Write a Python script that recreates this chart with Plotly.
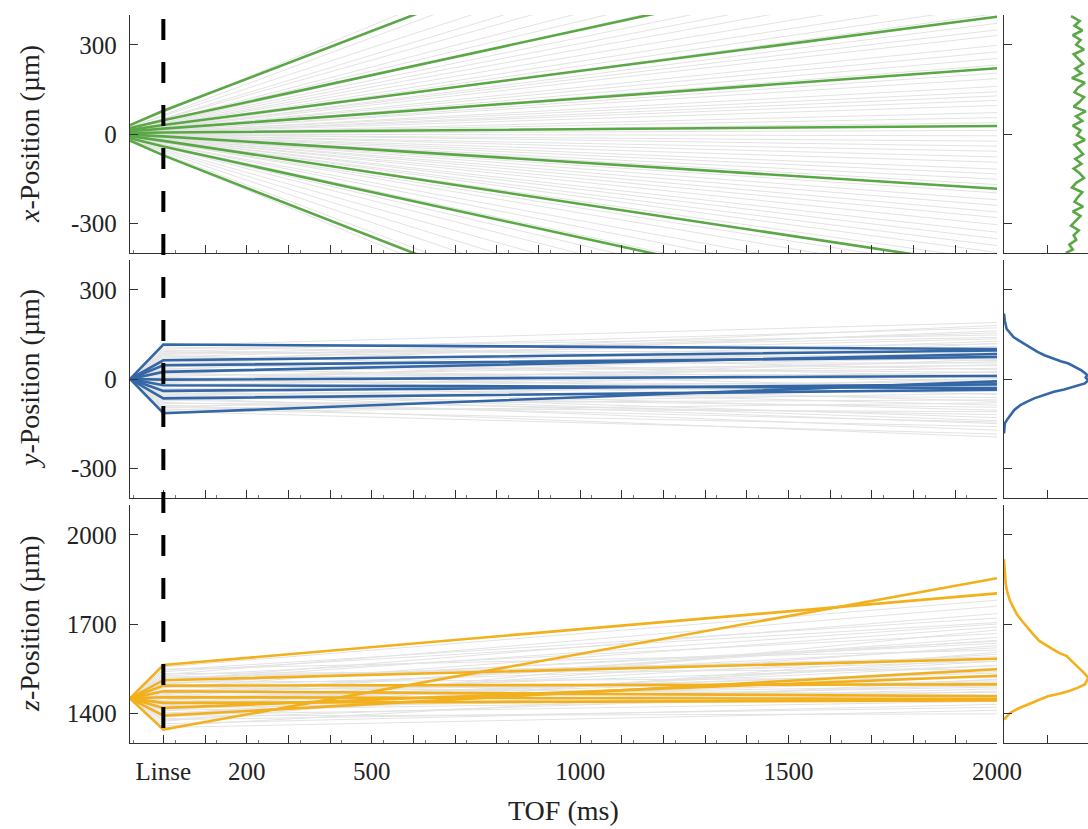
import plotly.graph_objects as go

# ---------------- data ----------------
t_points = [-80, 0, 2000]          # source, lens ("Linse"), end of TOF (ms)
x_tickvals = [0, 100, 200, 300, 400, 500, 600, 700, 800, 900, 1000, 1100, 1200,
              1300, 1400, 1500, 1600, 1700, 1800, 1900, 2000]
x_ticktext = ["Linse", "", "200", "", "", "500", "", "", "", "", "1000", "", "", "",
              "", "1500", "", "", "", "", "2000"]

# x-direction (straight trajectories): grey background set
gx_src = [26, 22, 24, 18, 19, 15, 17, 13, 14, 12,
          10, 11, 9, 10, 8, 6, 9, 7, 5, 6,
          4, 7, 3, 5, 2, 4, 1, 3, 2, 0,
          1, -1, 2, 0, -2, 1, -3, -1, -4, -2,
          -3, -5, -2, -6, -4, -7, -5, -8, -6, -9,
          -7, -10, -8, -11, -12, -10, -14, -13, -15, -17,
          -16, -19, -20, -22, -24, -26]
gx_end = [1240, 1105, 980, 905, 842, 770, 715, 668, 612, 575,
          540, 498, 462, 431, 405, 372, 350, 331, 298, 276,
          254, 232, 205, 186, 160, 142, 128, 113, 96, 72,
          55, 38, 12, -6, -24, -41, -58, -77, -95, -118,
          -134, -152, -170, -198, -221, -240, -262, -281, -305, -330,
          -352, -375, -398, -425, -468, -502, -548, -590, -640, -702,
          -760, -835, -920, -1010, -1120, -1230]
# highlighted x trajectories
green_src = [30, 20, 14, 9, 3, -2, -7, -14, -22]
green_lens = [78, 46, 30, 18, 5, -8, -23, -42, -72]
green_end = [1151, 654, 394, 221, 27, -184, -447, -654, -1165]

# y-direction
y_src = 0
gy_lens = [113, 108, 101, 97, 92, 88, 83, 79, 74, 71,
           66, 63, 57, 53, 49, 46, 41, 37, 33, 29,
           26, 21, 17, 14, 9, 6, 1, -3, -7, -11,
           -15, -18, -23, -27, -31, -34, -39, -43, -47, -51,
           -55, -58, -63, -67, -71, -74, -79, -83, -88, -92,
           -96, -101, -105, -109, -112, 86, 31, -12, -45, 58]
gy_end = [190, 62, 148, 31, 172, 96, 118, 7, 155, 80,
          135, -12, 104, 54, 162, 22, 88, -30, 127, 45,
          70, -52, 110, 15, 58, -75, 36, 92, -20, 48,
          -88, 10, -41, 66, -105, -8, -130, 25, -62, -150,
          -18, -95, -172, -35, -120, 2, -145, -70, -195, -48,
          -110, -160, -25, -185, -80, 140, -5, 120, -140, 180]
blue_lens = [116, 63, 46, 24, -2, -21, -40, -65, -115]
blue_end = [101, 96, 74, 84, 10, -30, -18, -36, -8]

# z-direction
z_src = 1450
gz_lens = [1556, 1548, 1540, 1533, 1525, 1518, 1511, 1504, 1498, 1491,
           1485, 1479, 1472, 1466, 1460, 1455, 1449, 1443, 1437, 1431,
           1425, 1419, 1413, 1407, 1401, 1395, 1388, 1381, 1373, 1365,
           1357, 1352, 1530, 1488, 1462, 1439, 1415, 1397, 1509, 1470,
           1545, 1451, 1428, 1378, 1500, 1476, 1521, 1444, 1410, 1391]
gz_end = [1780, 1612, 1705, 1548, 1668, 1590, 1735, 1520, 1642, 1575,
          1690, 1505, 1620, 1560, 1470, 1655, 1535, 1598, 1488, 1627,
          1512, 1455, 1575, 1680, 1498, 1440, 1552, 1475, 1605, 1430,
          1515, 1410, 1760, 1462, 1645, 1528, 1482, 1585, 1700, 1448,
          1720, 1492, 1560, 1420, 1635, 1505, 1585, 1540, 1452, 1398]
orange_lens = [1562, 1511, 1493, 1474, 1454, 1435, 1418, 1392, 1345]
orange_end = [1803, 1583, 1497, 1457, 1448, 1443, 1526, 1548, 1854]

# marginal distributions (normalised counts)
hx_pos = [396, 380, 364, 348, 332, 316, 300, 284, 268, 252, 236, 220, 204, 188, 172,
          156, 140, 124, 108, 92, 76, 60, 44, 28, 12, -4, -20, -36, -52, -68, -84,
          -100, -116, -132, -148, -164, -180, -196, -212, -228, -244, -260, -276,
          -292, -308, -324, -340, -356, -372, -388, -400]
hx_val = [0.78, 0.88, 0.82, 0.91, 0.80, 0.89, 0.84, 0.93, 0.81, 0.87,
          0.92, 0.83, 0.90, 0.79, 0.94, 0.86, 0.82, 0.93, 0.88, 0.81,
          0.95, 0.84, 0.91, 0.80, 0.89, 0.85, 0.94, 0.82, 0.87, 0.92,
          0.83, 0.90, 0.81, 0.88, 0.93, 0.84, 0.79, 0.91, 0.86, 0.82,
          0.92, 0.80, 0.89, 0.83, 0.78, 0.87, 0.81, 0.84, 0.76, 0.80, 0.72]
hy_pos = [220, 195, 169, 155, 141, 130, 119, 105, 91, 80, 69, 60, 52, 40, 29, 20, 13,
          5, -4, -15, -20, -26, -35, -43, -54, -65, -76, -88, -104, -121, -135, -149,
          -165, -183]
hy_val = [0.0, 0.01, 0.03, 0.07, 0.11, 0.17, 0.23, 0.30, 0.39, 0.47, 0.57, 0.66, 0.75,
          0.83, 0.90, 0.94, 0.97, 0.95, 0.98, 0.94, 0.88, 0.82, 0.70, 0.58, 0.47, 0.35,
          0.27, 0.19, 0.12, 0.07, 0.04, 0.01, 0.005, 0.0]
hz_pos = [1918, 1870, 1834, 1805, 1778, 1755, 1733, 1710, 1688, 1665, 1643, 1628, 1615,
          1603, 1592, 1572, 1553, 1536, 1519, 1508, 1497, 1486, 1474, 1465, 1457, 1443,
          1429, 1415, 1401, 1390, 1379]
hz_val = [0.0, 0.01, 0.02, 0.04, 0.07, 0.11, 0.15, 0.21, 0.27, 0.34, 0.41, 0.49, 0.57,
          0.64, 0.73, 0.80, 0.87, 0.93, 0.98, 0.96, 0.94, 0.86, 0.75, 0.63, 0.51, 0.39,
          0.27, 0.16, 0.07, 0.03, 0.0]

# ---------------- styling ----------------
GREEN = "#5aa845"
BLUE = "#3467a6"
ORANGE = "#f2b01c"
GREY = "#e3e3e3"
AX = "#333333"
FONT = "Liberation Serif"
TXT = "#222222"

W, H = 1088, 829
ML, MR, MT, MB = 130, 0, 15, 829 - 743
PW, PH = W - ML - MR, H - MT - MB


def px_x(p):
    return (p - ML) / PW


def px_y(p):
    return (H - MB - p) / PH


def polyline(ts_list, ys_list):
    xs, ys = [], []
    for ts, vs in zip(ts_list, ys_list):
        xs += list(ts) + [None]
        ys += list(vs) + [None]
    return xs, ys


fig = go.Figure()

# row 1: x position
xs, ys = polyline([[t_points[0], t_points[2]]] * len(gx_src),
                  [[s, e] for s, e in zip(gx_src, gx_end)])
fig.add_trace(go.Scatter(x=xs, y=ys, mode="lines", line=dict(color=GREY, width=1),
                         xaxis="x", yaxis="y", hoverinfo="skip"))
xs, ys = polyline([t_points] * len(green_src),
                  [[s, l, e] for s, l, e in zip(green_src, green_lens, green_end)])
fig.add_trace(go.Scatter(x=xs, y=ys, mode="lines", line=dict(color=GREEN, width=2.6),
                         xaxis="x", yaxis="y"))
fig.add_trace(go.Scatter(x=hx_val, y=hx_pos, mode="lines", line=dict(color=GREEN, width=2.6),
                         xaxis="x4", yaxis="y4"))

# row 2: y position
xs, ys = polyline([t_points] * len(gy_lens),
                  [[y_src, l, e] for l, e in zip(gy_lens, gy_end)])
fig.add_trace(go.Scatter(x=xs, y=ys, mode="lines", line=dict(color=GREY, width=1),
                         xaxis="x2", yaxis="y2", hoverinfo="skip"))
xs, ys = polyline([t_points] * len(blue_lens),
                  [[y_src, l, e] for l, e in zip(blue_lens, blue_end)])
fig.add_trace(go.Scatter(x=xs, y=ys, mode="lines", line=dict(color=BLUE, width=2.6),
                         xaxis="x2", yaxis="y2"))
fig.add_trace(go.Scatter(x=hy_val, y=hy_pos, mode="lines", line=dict(color=BLUE, width=2.6),
                         xaxis="x5", yaxis="y5"))

# row 3: z position
xs, ys = polyline([t_points] * len(gz_lens),
                  [[z_src, l, e] for l, e in zip(gz_lens, gz_end)])
fig.add_trace(go.Scatter(x=xs, y=ys, mode="lines", line=dict(color=GREY, width=1),
                         xaxis="x3", yaxis="y3", hoverinfo="skip"))
xs, ys = polyline([t_points] * len(orange_lens),
                  [[z_src, l, e] for l, e in zip(orange_lens, orange_end)])
fig.add_trace(go.Scatter(x=xs, y=ys, mode="lines", line=dict(color=ORANGE, width=2.6),
                         xaxis="x3", yaxis="y3"))
fig.add_trace(go.Scatter(x=hz_val, y=hz_pos, mode="lines", line=dict(color=ORANGE, width=2.6),
                         xaxis="x6", yaxis="y6"))

# ---------------- axes ----------------
main_dom = [0, px_x(997)]
hist_dom = [px_x(1004), 1.0]
hist_range = [0, 0.5 * (W - 1004) / (1047 - 1004)]
rows = [[px_y(253), 1.0], [px_y(498), px_y(260)], [0.0, px_y(505)]]

common = dict(showgrid=False, zeroline=False, showline=True, linecolor=AX, linewidth=1.3,
              ticks="inside", ticklen=8, tickwidth=1.3, tickcolor=AX, automargin=False,
              tickfont=dict(family=FONT, size=25, color=TXT))

for i, suffix in enumerate(["", "2", "3"]):
    fig.layout["xaxis" + suffix] = dict(
        common, domain=main_dom, range=[-80, 2000], anchor="y" + suffix,
        tickmode="array", tickvals=x_tickvals, ticktext=x_ticktext,
        showticklabels=(i == 2), ticklabelstandoff=6,
        minor=dict(ticks="inside", ticklen=3, tickwidth=1, tickcolor="#777777",
                   tick0=28, dtick=100))

yranges = [[-400, 400], [-400, 400], [1300, 2100]]
yticks = [[-300, 0, 300, 400], [-300, 0, 300, 400], [1400, 1700, 2000, 2100]]
ytext = [["-300", "0", "300", ""], ["-300", "0", "300", ""], ["1400", "1700", "2000", ""]]
for i, suffix in enumerate(["", "2", "3"]):
    fig.layout["yaxis" + suffix] = dict(
        common, domain=rows[i], range=yranges[i], anchor="x" + suffix,
        tickmode="array", tickvals=yticks[i], ticktext=ytext[i], ticklabelstandoff=7)

for i, suffix in enumerate(["4", "5", "6"]):
    fig.layout["xaxis" + suffix] = dict(
        common, domain=hist_dom, range=hist_range, anchor="y" + suffix,
        tickmode="array", tickvals=[0.5], showticklabels=False)
    fig.layout["yaxis" + suffix] = dict(
        common, domain=rows[i], range=yranges[i], anchor="x" + suffix,
        tickmode="array", tickvals=yticks[i], showticklabels=False)

# lens marker (dashed vertical line)
fig.add_shape(type="line", xref="x3", x0=0, x1=0, yref="paper",
              y0=px_y(19), y1=0, line=dict(color="black", width=4, dash="21px,22px"),
              layer="above")

# axis titles
titles = ["<i>x</i>-Position (µm)", "<i>y</i>-Position (µm)", "<i>z</i>-Position (µm)"]
centers = [134, 379, 624]
for ttl, c in zip(titles, centers):
    fig.add_annotation(text=ttl, xref="paper", yref="paper", x=px_x(29), y=px_y(c),
                       xanchor="center", yanchor="middle", textangle=-90, showarrow=False,
                       font=dict(family=FONT, size=28, color=TXT))
fig.add_annotation(text="TOF (ms)", xref="paper", yref="paper", x=px_x(563), y=px_y(810),
                   xanchor="center", yanchor="middle", showarrow=False,
                   font=dict(family=FONT, size=28, color=TXT))

fig.update_layout(width=W, height=H, autosize=False, hovermode=False,
                  margin=dict(l=ML, r=MR, t=MT, b=MB, pad=0),
                  paper_bgcolor="white", plot_bgcolor="white", showlegend=False,
                  font=dict(family=FONT, color=TXT))

fig.write_html("out.html", config={"responsive": False, "displayModeBar": False},
               post_script="document.body.style.margin='0px';"
                           "document.body.style.overflow='hidden';")
